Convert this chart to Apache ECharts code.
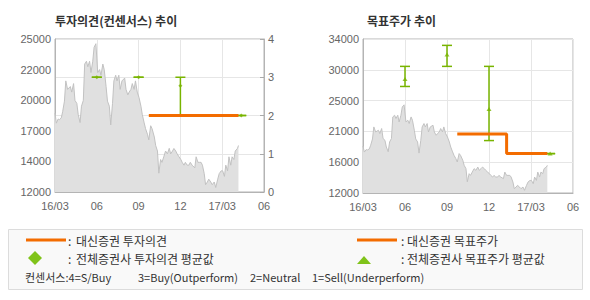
<!DOCTYPE html>
<html><head><meta charset="utf-8">
<script src="https://cdn.jsdelivr.net/npm/echarts@6/dist/echarts.min.js"></script>
<style>html,body{margin:0;padding:0;background:#fff}#c{width:590px;height:300px}</style>
</head><body><div id="c"></div>
<script>
const xTickLabels = ['16/03','06','09','12','17/03','06'];
const opinionPriceLabels = ['12000','14000','17000','20000','22000','25000'];
const targetPriceLabels = ['12000','16000','21000','25000','30000','34000'];
const opinionScaleLabels = ['0','1','2','3','4'];

const priceDates = [
'2016-03-01','2016-03-04','2016-03-08','2016-03-11','2016-03-15','2016-03-18','2016-03-22','2016-03-25','2016-03-29',
'2016-04-04','2016-04-07','2016-04-11','2016-04-14','2016-04-18','2016-04-21','2016-04-25','2016-04-28',
'2016-05-02','2016-05-05','2016-05-09','2016-05-12','2016-05-16','2016-05-19','2016-05-23','2016-05-26','2016-05-30',
'2016-06-03','2016-06-07','2016-06-10','2016-06-14','2016-06-17','2016-06-21','2016-06-24','2016-06-28',
'2016-07-01','2016-07-05','2016-07-08','2016-07-12','2016-07-15','2016-07-19','2016-07-22','2016-07-26',
'2016-08-01','2016-08-04','2016-08-08','2016-08-11','2016-08-15','2016-08-18','2016-08-22','2016-08-25','2016-08-29',
'2016-09-02','2016-09-06','2016-09-09','2016-09-13','2016-09-16','2016-09-20','2016-09-23','2016-09-27','2016-09-30',
'2016-10-05','2016-10-08','2016-10-12','2016-10-15','2016-10-19','2016-10-22','2016-10-26','2016-10-30',
'2016-11-03','2016-11-07','2016-11-10','2016-11-14','2016-11-17','2016-11-21','2016-11-24','2016-11-28',
'2016-12-02','2016-12-05','2016-12-09','2016-12-12','2016-12-16','2016-12-20','2016-12-23','2016-12-27',
'2017-01-02','2017-01-05','2017-01-09','2017-01-12','2017-01-16','2017-01-19','2017-01-23','2017-01-26','2017-01-30',
'2017-02-02','2017-02-06','2017-02-09','2017-02-13','2017-02-16','2017-02-20','2017-02-23','2017-02-27',
'2017-03-02','2017-03-06','2017-03-09','2017-03-13','2017-03-16','2017-03-20','2017-03-23','2017-03-27','2017-03-30',
'2017-04-04','2017-04-06'
];
const priceValues = [
18700,17850,18200,18150,18300,18820,19720,21440,20720,
20960,20490,21210,19780,19530,18570,17900,19290,
19780,22870,23110,22640,23110,22150,23110,24300,24600,
22150,22400,21920,22870,22400,20960,19720,19290,
17700,19530,21440,21920,21440,21920,20720,21440,
21680,20720,20250,20490,20720,21210,20720,21440,20490,
20010,19290,18570,17870,17380,16910,16430,17630,17380,
16670,15950,15480,13600,14760,14520,14990,15480,
15240,15710,15240,15480,15700,15480,15240,14990,
14760,14520,14280,14520,14280,14280,14520,14280,
14050,14990,14520,14520,14520,14280,13560,12620,12850,
13090,12850,12620,12850,12380,13090,13560,13800,
13800,13330,14280,13800,14990,14280,14990,14760,15480,
15710,15950
];

const opinionDates = ['2016-09-23','2017-04-06'];
const opinionValues = [2, 2];
const targetDates = ['2016-09-23','2017-01-09','2017-04-06'];
const targetValues = [20440, 17630, 17630];

const consDates = ['2016-06-01','2016-09-01','2016-12-01','2017-04-12'];
const consOpinionLow = [3, 3, 2, 2];
const consOpinionHigh = [3, 3, 3, 2];
const consOpinionAvg = [3, 3, 2.78, 2];
const consTargetLow = [27220, 30090, 19490, 17630];
const consTargetHigh = [30090, 33090, 30090, 17630];
const consTargetAvg = [28270, 31800, 24010, 17630];

const ORANGE = '#f36c00', GREEN = '#78b400', LEG_GREEN = '#80c31a';
const AXIS_FONT = 'Liberation Sans, Arial, sans-serif';
const KR_FONT = 'Noto Sans CJK KR, sans-serif';

function mi(s) {
  const p = s.split('-').map(Number);
  const dim = new Date(p[0], p[1], 0).getDate();
  return (p[0] - 2016) * 12 + (p[1] - 3) + (p[2] - 1) / dim;
}
const pricePts = priceDates.map((d, i) => [mi(d), priceValues[i]]);

function errRender(params, api) {
  const x = api.value(0);
  const pLo = api.coord([x, api.value(1)]);
  const pHi = api.coord([x, api.value(2)]);
  const hw = 5;
  const style = { stroke: GREEN, lineWidth: 1.5, fill: null };
  return { type: 'group', children: [
    { type: 'line', shape: { x1: pHi[0], y1: pHi[1], x2: pLo[0], y2: pLo[1] }, style },
    { type: 'line', shape: { x1: pHi[0] - hw, y1: pHi[1], x2: pHi[0] + hw, y2: pHi[1] }, style },
    { type: 'line', shape: { x1: pLo[0] - hw, y1: pLo[1], x2: pLo[0] + hw, y2: pLo[1] }, style }
  ]};
}

const axisLineStyle = { show: true, lineStyle: { color: '#b4b4b4', width: 1 } };
const labelBase = { color: '#666', fontSize: 11, fontFamily: AXIS_FONT };
const splitStyle = { show: true, lineStyle: { color: '#e6e6e6', width: 1 } };

function xAxisFor(gi) {
  return {
    type: 'value', gridIndex: gi, min: 0, max: 15, interval: 3,
    axisLine: axisLineStyle, axisTick: { show: false },
    axisLabel: Object.assign({}, labelBase, { margin: 8, showMinLabel: true, showMaxLabel: true,
      formatter: v => xTickLabels[Math.round(v / 3)] }),
    splitLine: splitStyle
  };
}

const chart = echarts.init(document.getElementById('c'), null, { renderer: 'svg' });
chart.setOption({
  animation: false,
  title: [
    { text: '투자의견(컨센서스) 추이', left: 55, top: 14, padding: 0,
      textStyle: { fontSize: 12, fontWeight: 'bold', color: '#333', fontFamily: KR_FONT } },
    { text: '목표주가 추이', left: 367, top: 14, padding: 0,
      textStyle: { fontSize: 12, fontWeight: 'bold', color: '#333', fontFamily: KR_FONT } }
  ],
  grid: [
    { left: 55, top: 39, width: 209, height: 153, show: true, borderColor: '#b4b4b4', borderWidth: 1, backgroundColor: 'transparent' },
    { left: 363, top: 39, width: 210, height: 154, show: true, borderColor: '#b4b4b4', borderWidth: 1, backgroundColor: 'transparent' }
  ],
  xAxis: [xAxisFor(0), xAxisFor(1)],
  yAxis: [
    { type: 'value', gridIndex: 0, min: 12000, max: 25000, interval: 2600,
      axisLine: axisLineStyle, axisTick: { show: false }, splitLine: { show: false },
      axisLabel: Object.assign({}, labelBase, { margin: 4,
        formatter: v => opinionPriceLabels[Math.round((v - 12000) / 2600)] }) },
    { type: 'value', gridIndex: 0, position: 'right', min: 0, max: 4, interval: 1,
      axisLine: axisLineStyle, axisTick: { show: true, inside: true, length: 4, lineStyle: { color: '#aaa' } },
      splitLine: splitStyle,
      axisLabel: Object.assign({}, labelBase, { margin: 4, formatter: v => opinionScaleLabels[Math.round(v)] }) },
    { type: 'value', gridIndex: 1, min: 12000, max: 34000, interval: 4400,
      axisLine: axisLineStyle, axisTick: { show: false }, splitLine: splitStyle,
      axisLabel: Object.assign({}, labelBase, { margin: 4,
        formatter: v => targetPriceLabels[Math.round((v - 12000) / 4400)] }) }
  ],
  series: [
    { type: 'line', xAxisIndex: 0, yAxisIndex: 0, data: pricePts, symbol: 'none',
      lineStyle: { color: '#c2c2c2', width: 1 }, areaStyle: { color: '#e0e0e0', opacity: 1 }, z: 1 },
    { type: 'scatter', xAxisIndex: 0, yAxisIndex: 1, symbol: 'diamond', symbolSize: 4,
      itemStyle: { color: GREEN }, data: consDates.map((d, i) => [mi(d), consOpinionAvg[i]]), z: 2 },
    { type: 'custom', xAxisIndex: 0, yAxisIndex: 1, renderItem: errRender,
      encode: { x: 0, y: [1, 2] },
      data: consDates.map((d, i) => [mi(d), consOpinionLow[i], consOpinionHigh[i]]), z: 3 },
    { type: 'line', xAxisIndex: 0, yAxisIndex: 1, symbol: 'none',
      lineStyle: { color: ORANGE, width: 3 }, data: opinionDates.map((d, i) => [mi(d), opinionValues[i]]), z: 5 },

    { type: 'line', xAxisIndex: 1, yAxisIndex: 2, data: pricePts, symbol: 'none',
      lineStyle: { color: '#c2c2c2', width: 1 }, areaStyle: { color: '#e0e0e0', opacity: 1 }, z: 1 },
    { type: 'scatter', xAxisIndex: 1, yAxisIndex: 2, symbol: 'triangle', symbolSize: [5, 4],
      itemStyle: { color: GREEN }, data: consDates.map((d, i) => [mi(d), consTargetAvg[i]]), z: 2 },
    { type: 'custom', xAxisIndex: 1, yAxisIndex: 2, renderItem: errRender,
      encode: { x: 0, y: [1, 2] },
      data: consDates.map((d, i) => [mi(d), consTargetLow[i], consTargetHigh[i]]), z: 3 },
    { type: 'line', xAxisIndex: 1, yAxisIndex: 2, symbol: 'none', step: 'end',
      lineStyle: { color: ORANGE, width: 3 }, data: targetDates.map((d, i) => [mi(d), targetValues[i]]), z: 5 }
  ],
  graphic: [
    { type: 'rect', shape: { x: 8.5, y: 229.5, width: 574, height: 60 },
      style: { fill: '#f9f9f9', stroke: '#dcdcdc', lineWidth: 1 } },
    { type: 'line', shape: { x1: 26, y1: 240, x2: 66, y2: 240 }, style: { stroke: ORANGE, lineWidth: 3 } },
    { type: 'text', x: 68, y: 240, style: { text: ':', fill: '#333', font: '12px ' + KR_FONT, verticalAlign: 'middle' } },
    { type: 'text', x: 76, y: 240, style: { text: '대신증권 투자의견', fill: '#333', font: '12px ' + KR_FONT, verticalAlign: 'middle' } },
    { type: 'line', shape: { x1: 357, y1: 240, x2: 397, y2: 240 }, style: { stroke: ORANGE, lineWidth: 3 } },
    { type: 'text', x: 401, y: 240, style: { text: ':', fill: '#333', font: '12px ' + KR_FONT, verticalAlign: 'middle' } },
    { type: 'text', x: 407, y: 240, style: { text: '대신증권 목표주가', fill: '#333', font: '12px ' + KR_FONT, verticalAlign: 'middle' } },
    { type: 'polygon', shape: { points: [[35, 251], [42, 258], [35, 265], [28, 258]] }, style: { fill: LEG_GREEN } },
    { type: 'text', x: 68, y: 258, style: { text: ':', fill: '#333', font: '12px ' + KR_FONT, verticalAlign: 'middle' } },
    { type: 'text', x: 76, y: 258, style: { text: '전체증권사 투자의견 평균값', fill: '#333', font: '12px ' + KR_FONT, verticalAlign: 'middle' } },
    { type: 'polygon', shape: { points: [[357, 264], [371, 264], [364, 256]] }, style: { fill: LEG_GREEN } },
    { type: 'text', x: 401, y: 258, style: { text: ':', fill: '#333', font: '12px ' + KR_FONT, verticalAlign: 'middle' } },
    { type: 'text', x: 407, y: 258, style: { text: '전체증권사 목표주가 평균값', fill: '#333', font: '12px ' + KR_FONT, verticalAlign: 'middle' } },
    { type: 'text', x: 25, y: 277, style: { text: '컨센서스:4=S/Buy', fill: '#333', font: '11px ' + KR_FONT, verticalAlign: 'middle' } },
    { type: 'text', x: 138, y: 277, style: { text: '3=Buy(Outperform)', fill: '#333', font: '11px ' + KR_FONT, verticalAlign: 'middle' } },
    { type: 'text', x: 250, y: 277, style: { text: '2=Neutral', fill: '#333', font: '11px ' + KR_FONT, verticalAlign: 'middle' } },
    { type: 'text', x: 312, y: 277, style: { text: '1=Sell(Underperform)', fill: '#333', font: '11px ' + KR_FONT, verticalAlign: 'middle' } }
  ]
});
</script>
</body></html>
